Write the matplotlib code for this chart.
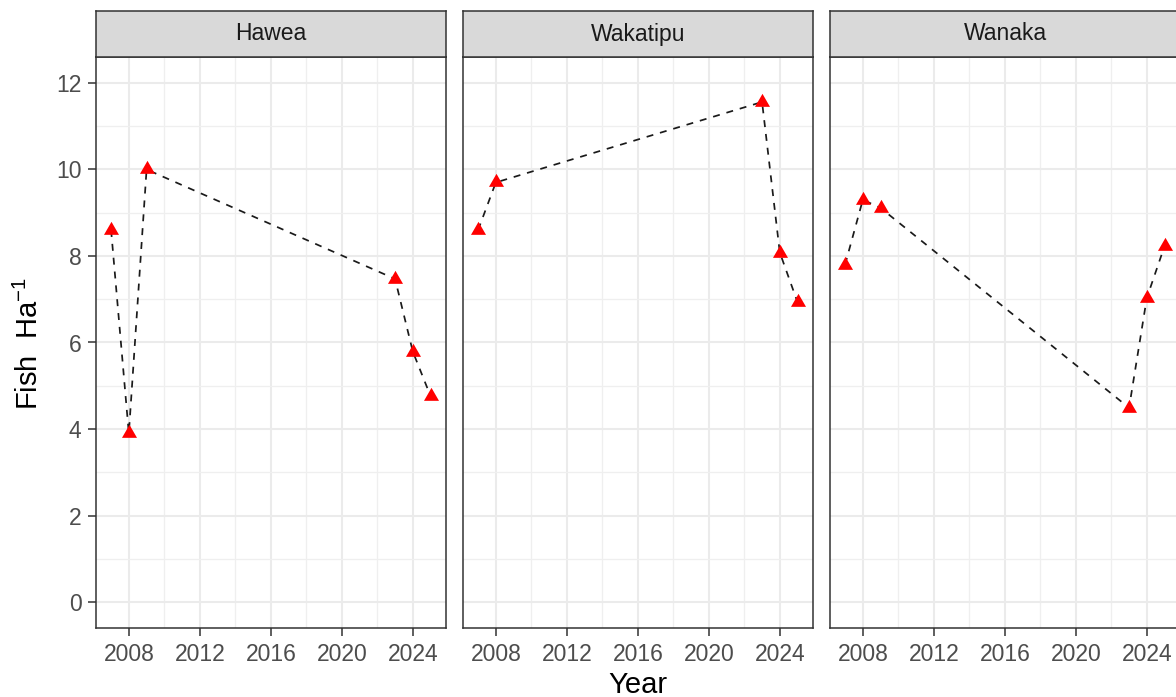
import matplotlib
matplotlib.use("Agg")
import matplotlib.pyplot as plt
from matplotlib.path import Path
from matplotlib.ticker import FixedLocator

# ---- data ----
lakes = ["Hawea", "Wakatipu", "Wanaka"]
hawea_years = [2007, 2008, 2009, 2023, 2024, 2025]
hawea_fish = [8.60, 3.90, 10.00, 7.47, 5.79, 4.76]
wakatipu_years = [2007, 2008, 2023, 2024, 2025]
wakatipu_fish = [8.60, 9.70, 11.56, 8.08, 6.93]
wanaka_years = [2007, 2008, 2009, 2023, 2024, 2025]
wanaka_fish = [7.80, 9.30, 9.11, 4.49, 7.03, 8.23]
x_ticks = [2008, 2012, 2016, 2020, 2024]
x_minor = [2006, 2010, 2014, 2018, 2022, 2026]
y_ticks = [0, 2, 4, 6, 8, 10, 12]
y_minor = [1, 3, 5, 7, 9, 11]
x_label = "Year"
y_label = "Fish  Ha$^{-1}$"

series = [(hawea_years, hawea_fish), (wakatipu_years, wakatipu_fish), (wanaka_years, wanaka_fish)]

plt.rcParams['font.family'] = ['Liberation Sans', 'DejaVu Sans']
plt.rcParams['mathtext.fontset'] = 'custom'
plt.rcParams['mathtext.rm'] = 'Liberation Sans'
plt.rcParams['mathtext.it'] = 'Liberation Sans:italic'
plt.rcParams['mathtext.bf'] = 'Liberation Sans:bold'

W, H = 1176, 697
fig = plt.figure(figsize=(W / 100, H / 100), dpi=100)

tri = Path([(0, 1), (-0.866, -0.5), (0.866, -0.5), (0, 1)],
           [Path.MOVETO, Path.LINETO, Path.LINETO, Path.CLOSEPOLY])

panel_left = [96, 463, 830]
pw = 350
top, bottom = 57, 628
strip_top = 11
border = '#333333'

for i, (lake, (yrs, vals)) in enumerate(zip(lakes, series)):
    l = panel_left[i]
    ax = fig.add_axes([l / W, (H - bottom) / H, pw / W, (bottom - top) / H])
    ax.set_xlim(2006.15, 2025.87)
    ax.set_ylim(-0.6, 12.6)
    ax.xaxis.set_major_locator(FixedLocator(x_ticks))
    ax.xaxis.set_minor_locator(FixedLocator(x_minor))
    ax.yaxis.set_major_locator(FixedLocator(y_ticks))
    ax.yaxis.set_minor_locator(FixedLocator(y_minor))
    ax.set_axisbelow(True)
    ax.grid(which='major', color='#EBEBEB', lw=1.5)
    ax.grid(which='minor', color='#EFEFEF', lw=0.9)
    ax.tick_params(which='minor', length=0)
    ax.tick_params(which='major', length=6, width=1.1, color=border,
                   labelcolor='#4D4D4D', labelsize=16.5, pad=4.5)
    if i > 0:
        ax.tick_params(axis='y', which='both', left=False, labelleft=False)
    for s in ax.spines.values():
        s.set_color(border)
        s.set_linewidth(1.1)
    ax.plot(yrs, vals, ls=(0, (4, 4)), color='#1a1a1a', lw=1.25, zorder=3)
    ax.plot(yrs, vals, ls='none', marker=tri, ms=12.5, color='#FF0000',
            markeredgewidth=0, zorder=4, clip_on=False)

    sax = fig.add_axes([l / W, (H - top) / H, pw / W, (top - strip_top) / H])
    sax.set_facecolor('#D9D9D9')
    sax.set_xticks([])
    sax.set_yticks([])
    for s in sax.spines.values():
        s.set_color(border)
        s.set_linewidth(1.1)
    sax.text(0.5, 0.5, lake, ha='center', va='center', fontsize=16.5,
             color='#1A1A1A', transform=sax.transAxes)

fig.text(29 / W, 1 - 344 / H, y_label, rotation=90, ha='center', va='center',
         fontsize=21, color='black')
fig.text(638 / W, 1 - 685 / H, x_label, ha='center', va='center',
         fontsize=21, color='black')

fig.savefig("out.png", dpi=100, facecolor='white')
